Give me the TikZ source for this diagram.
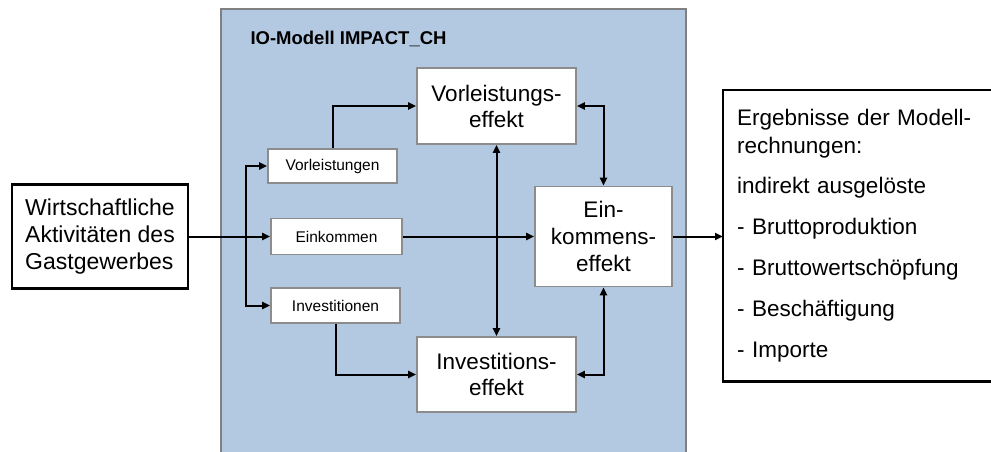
\documentclass[tikz,border=0pt]{standalone}
\usepackage{fontspec}
\setmainfont{Liberation Sans}
\usetikzlibrary{arrows.meta}
\definecolor{panelblue}{RGB}{179,200,225}
\definecolor{panelgray}{RGB}{128,128,128}
\definecolor{boxgray}{RGB}{140,140,140}
\tikzset{
  big/.style={font=\fontsize{22.5}{26}\selectfont},
  small/.style={font=\fontsize{15.5}{18}\selectfont},
  effbox/.style={draw=boxgray, line width=1.6pt, fill=white, inner sep=0pt, align=center, big},
  inbox/.style={draw=boxgray, line width=1.6pt, fill=white, inner sep=0pt, small},
  blackbox/.style={draw=black, line width=2.5pt, fill=white, inner sep=0pt},
  conn/.style={line width=2pt, draw=black},
  arr/.style={conn, -{Triangle[length=8pt,width=7pt]}},
  arrtwo/.style={conn, {Triangle[length=8pt,width=7pt]}-{Triangle[length=8pt,width=7pt]}},
}
\begin{document}
\begin{tikzpicture}[x=1pt, y=-1pt]
\useasboundingbox (0,0) rectangle (991,452);
% panel
\fill[panelblue] (221,9) rectangle (686,452);
\draw[panelgray, line width=2pt] (221,453) |- (686,9) -- (686,453);
\node[anchor=base west, font=\fontsize{18.5}{22}\selectfont\bfseries] (title) at (247,45) {IO-Modell IMPACT\_CH};

% left activity box
\node[blackbox, minimum width=176pt, minimum height=104pt, align=left, font=\fontsize{23}{27}\selectfont] (act) at (100,236.5) {Wirtschaftliche\\Aktivitäten des\\Gastgewerbes};

% input boxes
\node[inbox, minimum width=129pt, minimum height=34pt] (vorl) at (332.5,166) {Vorleistungen};
\node[inbox, minimum width=131pt, minimum height=36pt] (eink) at (336.5,236.5) {Einkommen};
\node[inbox, minimum width=129pt, minimum height=35pt] (inv) at (335.5,305.5) {Investitionen};

% effect boxes
\node[effbox, minimum width=159pt, minimum height=76pt] (veff) at (496.5,106) {Vorleistungs-\\effekt};
\node[effbox, minimum width=159pt, minimum height=75pt] (ieff) at (496.5,374.5) {Investitions-\\effekt};
\node[effbox, minimum width=137pt, minimum height=100pt, font=\fontsize{22.5}{27}\selectfont] (eeff) at (603.5,236.5) {Ein-\\kommens-\\effekt};

% result box (open to the right)
\node[anchor=north west, minimum width=268pt, minimum height=291pt, inner xsep=14pt, inner ysep=0pt, text width=240pt, align=left, font=\fontsize{22.5}{28}\selectfont] (res) at (723,90) {Ergebnisse der Modell-\\rechnungen:\\[12pt]indirekt ausgelöste\\[13pt]- Bruttoproduktion\\[13pt]- Bruttowertschöpfung\\[13pt]- Beschäftigung\\[13pt]- Importe};
\draw[black, line width=2.5pt] (res.north east) -- (res.north west) -- (res.south west) -- (res.south east);

% connectors
\coordinate (split) at (246,236.5);
\draw[arr] (act) -- (eink);
\draw[arr] (split) |- (vorl.west);
\draw[arr] (split) |- (inv.west);
\draw[arr] (vorl.north) |- (veff.west);
\draw[arr] (inv.south) |- (ieff.west);
\draw[arr] (eink) -- (eeff);
\draw[arrtwo] (veff) -- (ieff);
\draw[arrtwo] (veff.east) -| (eeff.north);
\draw[arrtwo] (ieff.east) -| (eeff.south);
\draw[arr] (eeff.east) -- (eeff.east -| res.west);
\end{tikzpicture}
\end{document}
